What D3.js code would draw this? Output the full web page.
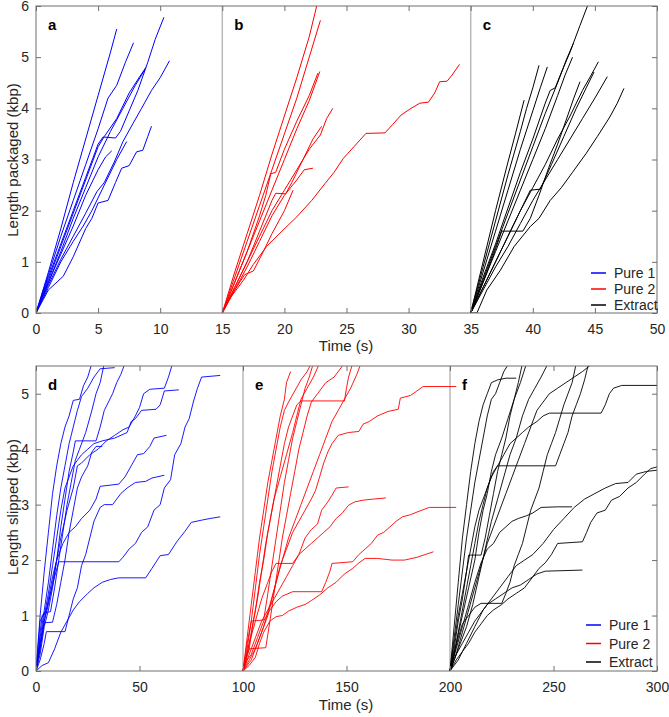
<!DOCTYPE html>
<html lang="en">
<head>
<meta charset="UTF-8">
<title>Packaging and slipping traces</title>
<script src="https://cdn.jsdelivr.net/npm/d3@7"></script>
<style>
  body { margin: 0; background: #fff; }
  svg { font-family: "Liberation Sans", Arial, sans-serif; }
</style>
</head>
<body>
<svg></svg>
<script>
// ---- data (time s, length kbp) ----
// top row: length packaged, traces offset in time per condition
let pure1Packaged = [
  [[0,0],[1,0.8],[2,1.65],[3,2.55],[4,3.4],[5,4.25],[6,5.1],[6.5,5.55]],
  [[0,0],[1,0.75],[2,1.5],[3,2.2],[4,2.9],[5,3.6],[5.8,4.2],[6.5,4.45],[7.2,4.9],[7.85,5.28]],
  [[0,0],[1,0.7],[2,1.35],[3,2.0],[4,2.65],[5,3.3],[5.4,3.44],[6.4,3.42],[6.8,3.55],[7.5,3.95],[8.2,4.35],[9,4.9],[9.6,5.35],[10.3,5.78]],
  [[0,0],[1,0.65],[2,1.3],[3,1.95],[4,2.6],[5,3.25],[5.5,3.45],[6.5,3.8],[7.5,4.3],[8.3,4.6],[8.85,4.8]],
  [[0,0],[1,0.6],[2,1.2],[3,1.85],[4,2.45],[5,3.05],[6,3.55],[7,4.0],[8,4.45],[8.75,4.75]],
  [[0,0],[1,0.55],[2,1.05],[3,1.5],[4,1.95],[4.9,2.37],[5.5,2.55],[6.3,2.95],[7,3.35],[7.8,3.7],[8.5,4.0],[9.3,4.35],[10,4.6],[10.75,4.93]],
  [[0,0],[1,0.45],[2.2,0.72],[3,1.1],[4,1.65],[4.5,1.85],[5,2.15],[5.8,2.2],[6.4,2.55],[6.9,2.83],[7.5,2.88],[8.1,3.15],[8.6,3.18],[9.0,3.45],[9.3,3.65]],
  [[0,0],[1,0.6],[2,1.15],[3,1.7],[4,2.3],[5,2.8],[5.6,3.05],[6.1,3.17]],
  [[0,0],[1,0.5],[2,1.0],[3,1.4],[3.8,1.7],[4.5,2.0],[5.5,2.5],[6.5,3.0],[7.3,3.35]]
];
let pure2Packaged = [
  [[15,0],[16,0.8],[17,1.55],[18,2.3],[19,3.1],[20,3.85],[21,4.6],[22,5.4],[22.6,6.0]],
  [[15,0],[16,0.7],[17,1.4],[18,2.1],[19,2.8],[20,3.5],[21,4.2],[22,5.0],[22.9,5.72]],
  [[15,0],[16,0.6],[17,1.2],[18,1.8],[19,2.4],[20,3.0],[21,3.6],[22,4.15],[22.85,4.72]],
  [[15,0],[16,0.6],[17,1.2],[18,1.9],[18.5,2.3],[18.9,2.72],[19.3,2.75],[20,3.2],[21,3.75],[22,4.25],[22.7,4.69]],
  [[15,0],[16,0.5],[17,1.0],[18,1.5],[19,2.0],[20,2.4],[21,2.8],[22,3.2],[22.9,3.48],[23.4,3.8],[23.9,4.0]],
  [[15,0],[16,0.45],[17,0.9],[18,1.4],[19,1.9],[20,2.3],[21,2.6],[21.6,2.8],[22.3,2.83]],
  [[15,0],[16,0.5],[17,1.0],[18,1.6],[19,2.2],[19.3,2.34],[20.1,2.33],[20.6,2.55],[21.5,3.0],[22.3,3.4],[23,3.65]],
  [[15,0],[15.5,0.25],[16.7,0.64],[17.5,0.95],[18.57,1.3],[19.8,1.6],[21,1.88],[22.2,2.2],[23.27,2.53],[24,2.75],[24.74,3.02],[25.6,3.25],[26.57,3.51],[28.1,3.52],[28.7,3.68],[29.4,3.87],[30.2,4.0],[30.9,4.1],[31.6,4.12],[32.1,4.3],[32.5,4.52],[33.1,4.53],[33.5,4.65],[34.1,4.86]],
  [[15,0],[16,0.45],[16.8,0.75],[17.5,0.82],[18.3,1.2],[19,1.55],[20,2.0],[20.7,2.4]]
];
let extractPackaged = [
  [[35,0],[36,0.7],[37,1.35],[38,2.05],[39,2.75],[40,3.4],[41,4.1],[41.4,4.35],[41.8,4.4],[42.3,4.7],[43,5.1],[43.8,5.62],[44.4,6.0]],
  [[35,0],[36,0.65],[37,1.3],[38,1.95],[39,2.6],[40,3.25],[41,3.9],[42,4.5],[42.7,4.95],[43.27,5.27]],
  [[35,0],[36,0.6],[37,1.2],[38,1.8],[39,2.4],[40,3.0],[41,3.6],[42,4.25],[42.6,4.65],[43.2,5.0]],
  [[35,0],[36,0.9],[37,1.8],[38,2.7],[39,3.55],[39.5,4.0],[40,4.4],[40.5,4.84]],
  [[35,0],[36,0.8],[37,1.6],[38,2.4],[39,3.2],[40,3.95],[40.6,4.4],[41.17,4.81]],
  [[35,0],[36,0.5],[37,1.0],[38,1.5],[39,2.0],[40,2.45],[41,2.9],[42,3.4],[43,3.85],[44,4.35],[44.7,4.65],[45.28,4.91]],
  [[35,0],[36,0.5],[37,1.0],[38,1.5],[39,2.0],[39.8,2.4],[40.6,2.42],[41.5,2.9],[42.5,3.45],[43.5,4.0],[44.3,4.4],[44.93,4.71]],
  [[35,0],[36,0.45],[37,0.9],[38,1.3],[39,1.75],[40,2.2],[41,2.6],[42,3.0],[43,3.4],[44,3.8],[45,4.2],[46,4.62]],
  [[35,0],[36,0.6],[37,1.25],[37.5,1.6],[39.2,1.6],[39.8,1.85],[40.5,2.3],[41.3,2.85],[42,3.3],[42.8,3.85],[43.3,4.2],[43.8,4.52]],
  [[35,0],[35.5,0],[36.3,0.45],[37.4,0.84],[38.5,1.3],[39.8,1.69],[40.5,1.85],[41.4,2.2],[42.3,2.45],[43.2,2.75],[44.3,3.12],[45.2,3.45],[46.2,3.83],[46.8,4.1],[47.34,4.39]],
  [[35,0],[36,1.0],[37,2.0],[38,2.95],[38.6,3.5],[39.3,4.16]]
];

// bottom row: length slipped
let pure1Slipped = [
  [[0,0],[1,0.5],[2,1.0],[4,1.8],[6,2.5],[8,3.2],[10,3.7],[12,4.1],[14,4.4],[16,4.6],[18,4.88],[21,4.9],[23,5.15],[25,5.3],[27,5.55]],
  [[0,0],[2,0.6],[4,1.1],[6,1.6],[8,2.2],[10,2.8],[12,3.3],[14,3.7],[16,4.1],[18,4.4],[20,4.7],[22,4.95],[25,5.1],[28,5.3],[31,5.45],[38,5.47]],
  [[0,0],[2,0.3],[4,0.8],[6,1.1],[8,1.5],[10,2.0],[12,2.6],[14,3.1],[16,3.6],[18,3.95],[19,4.15],[29,4.15],[31,4.4],[33,4.7],[35,4.85],[37,5.0],[39,5.2],[41,5.35],[43,5.55]],
  [[0,0],[3,0.1],[6,0.15],[9,0.4],[12,0.7],[15,0.9],[18,1.1],[21,1.25],[25,1.4],[28,1.5],[32,1.6],[36,1.65],[40,1.68],[53,1.68],[56,1.85],[60,2.08],[64,2.1],[68,2.33],[72,2.52],[75,2.68],[80,2.72],[84,2.75],[89,2.78]],
  [[0,0],[1,0.3],[2,0.7],[3,1.0],[5,1.1],[7,1.4],[9,1.7],[11,1.97],[40,1.97],[42,2.05],[45,2.2],[48,2.3],[51,2.5],[54,2.6],[57,2.9],[60,3.0],[62,3.3],[65,3.45],[67,3.9],[70,4.1],[72,4.4],[74,4.55],[76,4.85],[78,5.1],[80,5.3],[89,5.33]],
  [[0,0],[2,0.2],[4,0.5],[5,0.71],[14,0.71],[16,1.0],[18,1.3],[20,1.5],[22,1.9],[24,2.1],[26,2.4],[28,2.7],[31,2.95],[33,3.0],[37,3.0],[39,3.1],[41,3.2],[44,3.3],[48,3.4],[53,3.42],[56,3.48],[62,3.53]],
  [[0,0],[2,0.4],[4,0.9],[6,1.3],[8,1.7],[10,2.0],[13,2.3],[16,2.5],[19,2.6],[22,2.75],[26,2.9],[29,3.1],[31,3.33],[40,3.37],[43,3.5],[46,3.7],[49,3.9],[52,3.92],[55,4.05],[57,4.2],[63,4.25]],
  [[0,0],[2,0.5],[4,1.0],[6,1.4],[8,1.9],[10,2.4],[12,2.9],[14,3.3],[16,3.5],[18,3.7],[20,3.8],[22,3.9],[25,4.0],[28,4.1],[32,4.15],[38,4.2],[44,4.3],[46,4.5],[48,4.55],[51,4.7],[58,4.72],[60,4.8],[62,5.05],[69,5.07]],
  [[0,0],[2,0.4],[4,0.9],[6,1.2],[8,1.6],[10,2.0],[12,2.4],[15,2.9],[18,3.3],[20,3.7],[22,3.75],[26,3.9],[30,4.0],[34,4.15],[38,4.25],[42,4.35],[45,4.4],[48,4.6],[50,4.75],[52,5.0],[55,5.08],[62,5.1],[64,5.3],[66,5.55]],
  [[0,0],[2,0.9],[4,1.05],[7,1.07],[9,1.5],[11,2.0],[13,2.5],[15,3.0],[17,3.4],[19,3.8],[21,4.0],[24,4.3],[27,4.7],[29,5.0],[31,5.2],[33,5.55]],
  [[0,0],[2,0.5],[4,0.87],[8,0.88],[10,1.2],[12,1.6],[14,2.0],[16,2.5],[18,2.9],[20,3.3],[22,3.5],[25,3.7],[27,3.95],[29,4.05],[32,4.05]]
];
let pure2Slipped = [
  [[100,0],[102,0.6],[104,1.2],[106,1.8],[108,2.4],[110,2.9],[112,3.4],[114,3.8],[116,4.2],[118,4.6],[120,4.9],[121,5.2],[123,5.4]],
  [[100,0],[102,0.4],[104,0.9],[106,1.5],[108,2.1],[110,2.6],[112,3.1],[114,3.6],[116,4.0],[118,4.4],[120,4.7],[122,4.85],[125,5.05],[128,5.25],[131,5.4],[133,5.55]],
  [[100,0],[102,0.3],[104,0.7],[106,1.1],[108,1.6],[110,2.0],[112,2.5],[114,2.9],[116,3.3],[118,3.7],[120,4.1],[122,4.4],[124,4.6],[126,4.8],[128,4.87],[149,4.87],[150,5.1],[151,5.3],[153,5.55]],
  [[100,0],[103,0.4],[105,0.9],[107,1.3],[109,1.8],[111,2.3],[113,2.7],[115,3.1],[118,3.5],[121,3.9],[124,4.3],[126,4.6],[128,4.9],[131,5.1],[134,5.3],[137,5.55]],
  [[100,0],[103,0.2],[106,0.4],[109,0.7],[112,1.0],[114,1.3],[116,1.6],[118,1.9],[121,2.2],[124,2.5],[127,2.7],[130,2.9],[133,3.1],[135,3.25],[137,3.5],[139,3.75],[141,3.95],[143,4.1],[146,4.25],[151,4.3],[156,4.32],[158,4.45],[161,4.5],[165,4.6],[170,4.68],[175,4.72],[176,4.92],[181,4.97],[184,5.05],[187,5.13],[203,5.13]],
  [[100,0],[103,0.3],[106,0.6],[109,0.9],[112,1.1],[115,1.3],[118,1.5],[121,1.7],[124,1.9],[127,2.1],[130,2.4],[133,2.55],[136,2.65],[138,2.9],[141,3.05],[143,3.17],[145,3.3],[151,3.32]],
  [[100,0],[103,0.5],[106,0.9],[109,1.3],[112,1.6],[114,1.8],[116,1.94],[124,1.94],[127,2.1],[130,2.2],[133,2.3],[136,2.4],[139,2.5],[142,2.6],[145,2.75],[148,2.85],[151,2.99],[154,3.05],[158,3.08],[163,3.1],[169,3.12]],
  [[100,0],[102,0.2],[104,0.3],[107,0.6],[110,0.9],[113,1.1],[116,1.25],[119,1.35],[124,1.43],[138,1.43],[140,1.6],[142,1.8],[143,1.94],[153,1.97],[156,2.1],[159,2.2],[162,2.3],[165,2.45],[168,2.5],[171,2.6],[174,2.7],[177,2.78],[181,2.82],[185,2.88],[190,2.95],[203,2.95]],
  [[100,0],[103,0.1],[106,0.25],[108,0.5],[110,0.7],[113,0.9],[116,0.98],[119,1.0],[122,1.08],[126,1.15],[130,1.2],[133,1.27],[137,1.37],[141,1.5],[145,1.6],[149,1.75],[153,1.85],[156,1.95],[159,2.03],[165,2.03],[172,2.0],[178,2.0],[184,2.05],[188,2.1],[192,2.15]],
  [[100,0],[102,0.5],[104,0.9],[110,0.92],[112,1.4],[114,1.9],[116,2.4],[118,2.9],[120,3.4],[122,3.8],[124,4.2],[126,4.5],[128,4.8],[130,5.1],[132,5.3],[134,5.55]],
  [[100,0],[102,0.3],[103,0.4],[111,0.42],[113,0.9],[115,1.4],[117,1.9],[119,2.4],[121,2.8],[123,3.2],[125,3.6],[127,4.0],[129,4.3],[131,4.6],[133,4.85],[136,5.0],[140,5.2],[144,5.3],[148,5.5]],
  [[100,0],[104,0.2],[107,0.5],[110,0.8],[113,1.2],[116,1.6],[119,2.0],[122,2.4],[125,2.7],[128,3.0],[131,3.3],[134,3.6],[137,3.9],[140,4.2],[143,4.5],[146,4.7],[149,4.9],[152,5.1],[155,5.35],[157,5.55]]
];
let extractSlipped = [
  [[200,0],[202,0.8],[204,1.6],[206,2.4],[208,3.0],[210,3.6],[212,4.1],[214,4.5],[216,4.8],[218,5.0],[220,5.2],[223,5.25],[227,5.28],[232,5.28]],
  [[200,0],[202,0.6],[204,1.2],[206,1.8],[208,2.4],[210,2.9],[212,3.4],[214,3.8],[216,4.2],[218,4.6],[220,4.9],[222,5.0],[224,5.2],[226,5.4],[228,5.52],[250,5.52]],
  [[200,0],[203,0.5],[206,1.0],[209,1.5],[212,2.0],[214,2.5],[216,2.9],[218,3.2],[220,3.6],[222,3.9],[225,4.2],[228,4.55],[231,4.9],[234,5.2],[237,5.55]],
  [[200,0],[202,0.4],[204,0.9],[206,1.3],[208,1.8],[210,2.2],[212,2.6],[214,2.9],[216,3.1],[218,3.3],[221,3.6],[223,3.7],[251,3.7],[253,3.9],[255,4.1],[257,4.3],[259,4.6],[261,4.8],[263,5.0],[265,5.25],[267,5.55]],
  [[200,0],[202,0.3],[204,0.7],[206,1.1],[208,1.5],[210,1.9],[212,2.3],[214,2.7],[216,3.0],[218,3.3],[220,3.5],[223,3.7],[226,3.9],[229,4.1],[232,4.2],[235,4.3],[238,4.4],[242,4.5],[245,4.6],[248,4.65],[273,4.65],[275,4.8],[277,5.0],[279,5.1],[283,5.15],[300,5.15]],
  [[200,0],[203,0.3],[206,0.7],[209,1.1],[212,1.5],[215,1.9],[218,2.3],[221,2.6],[224,2.9],[227,3.2],[230,3.5],[233,3.8],[236,4.1],[239,4.4],[242,4.7],[245,4.85],[248,5.0],[252,5.1],[256,5.2],[260,5.3],[264,5.4],[268,5.52],[272,5.55]],
  [[200,0],[203,0.4],[206,0.8],[209,1.2],[212,1.6],[215,1.95],[218,2.2],[221,2.3],[224,2.5],[227,2.6],[230,2.7],[233,2.75],[237,2.8],[240,2.85],[244,2.95],[252,2.96],[259,2.96]],
  [[200,0],[203,0.3],[206,0.5],[209,0.7],[212,0.9],[215,1.05],[218,1.2],[222,1.3],[226,1.4],[230,1.5],[234,1.55],[238,1.65],[242,1.75],[246,1.8],[264,1.82]],
  [[200,0],[203,0.2],[206,0.35],[209,0.5],[212,0.7],[215,0.85],[218,1.0],[221,1.1],[225,1.2],[228,1.3],[232,1.4],[236,1.5],[240,1.7],[243,1.85],[246,1.95],[249,2.1],[252,2.3],[264,2.33],[266,2.5],[268,2.68],[271,2.85],[275,2.9],[278,3.08],[282,3.15],[286,3.3],[290,3.4],[294,3.55],[297,3.65],[300,3.68]],
  [[200,0],[204,0.2],[208,0.5],[212,0.8],[216,1.1],[220,1.3],[224,1.5],[228,1.7],[232,1.9],[236,2.0],[240,2.1],[245,2.3],[250,2.55],[255,2.75],[260,2.95],[265,3.1],[270,3.2],[275,3.3],[280,3.38],[286,3.4],[290,3.55],[295,3.6],[300,3.62]],
  [[200,0],[202,0.3],[204,0.6],[206,0.85],[209,1.0],[212,1.15],[215,1.22],[225,1.22],[227,1.4],[229,1.6],[231,1.9],[233,2.1],[235,2.3],[237,2.6],[239,2.9],[241,3.1],[243,3.3],[245,3.6],[247,3.9],[249,4.1],[251,4.3],[253,4.55],[255,4.8],[257,5.0],[259,5.2],[261,5.55]],
  [[200,0],[202,0.5],[204,1.0],[206,1.4],[208,1.8],[209,2.09],[215,2.09],[217,2.4],[219,2.8],[221,3.2],[223,3.6],[225,3.9],[227,4.2],[229,4.6],[231,4.9],[233,5.2],[235,5.55]],
  [[200,0],[204,0.4],[208,0.8],[211,1.2],[214,1.7],[217,2.2],[220,2.7],[223,3.1],[226,3.5],[229,3.9],[232,4.2],[235,4.6],[238,4.9],[241,5.1],[244,5.3],[247,5.52],[253,5.52]]
];

let topXTicks = [0, 5, 10, 15, 20, 25, 30, 35, 40, 45, 50];
let topYTicks = [0, 1, 2, 3, 4, 5, 6];
let botXTicks = [0, 50, 100, 150, 200, 250, 300];
let botYTicks = [0, 1, 2, 3, 4, 5];
let topDividers = [15, 35];
let botDividers = [100, 200];
let seriesNames = ["Pure 1", "Pure 2", "Extract"];
let seriesColors = ["#0000ff", "#ff0000", "#000000"];

// ---- drawing ----
let width = 669, height = 717;
let svg = d3.select("svg").attr("width", width).attr("height", height);

let axisColor = "#6e6e6e", textColor = "#262626";

function drawPanel(opt) {
  let x = d3.scaleLinear().domain(opt.xDomain).range([36, 657]);
  let y = d3.scaleLinear().domain(opt.yDomain).range([opt.bottom, opt.top]);
  let g = svg.append("g");

  // clip so traces stay inside the box
  svg.append("clipPath").attr("id", opt.id)
    .append("rect")
    .attr("x", 36).attr("y", opt.top)
    .attr("width", 621).attr("height", opt.bottom - opt.top);

  // light grey lines splitting the three conditions
  g.selectAll(".divider").data(opt.dividers).enter().append("line")
    .attr("x1", d => x(d)).attr("x2", d => x(d))
    .attr("y1", opt.top).attr("y2", opt.bottom)
    .attr("stroke", "#b9b9b9").attr("stroke-width", 1.5);

  let line = d3.line().x(d => x(d[0])).y(d => y(d[1]));
  let traces = g.append("g").attr("clip-path", "url(#" + opt.id + ")");
  opt.groups.forEach((group, i) => {
    traces.selectAll(null).data(group).enter().append("path")
      .attr("d", line)
      .attr("fill", "none")
      .attr("stroke", seriesColors[i])
      .attr("stroke-width", opt.lineWidth)
      .attr("stroke-linejoin", "round");
  });

  // axes, ticks pointing inward on all four sides
  let styleAxis = sel => {
    sel.select(".domain").remove();
    sel.selectAll("line").attr("stroke", axisColor);
    sel.selectAll("text").attr("fill", textColor).style("font-size", "14px")
      .style("font-family", "'Liberation Sans', Arial, sans-serif");
  };
  let fmt = d3.format("d");
  g.append("g").attr("transform", `translate(0,${opt.bottom})`)
    .call(d3.axisBottom(x).tickValues(opt.xTicks).tickSize(-5).tickPadding(11).tickFormat(fmt))
    .call(styleAxis);
  g.append("g").attr("transform", `translate(0,${opt.top})`)
    .call(d3.axisTop(x).tickValues(opt.xTicks).tickSize(-5).tickFormat(""))
    .call(styleAxis);
  g.append("g").attr("transform", "translate(36,0)")
    .call(d3.axisLeft(y).tickValues(opt.yTicks).tickSize(-5).tickPadding(7).tickFormat(fmt))
    .call(styleAxis);
  g.append("g").attr("transform", "translate(657,0)")
    .call(d3.axisRight(y).tickValues(opt.yTicks).tickSize(-5).tickFormat(""))
    .call(styleAxis);

  g.append("rect")
    .attr("x", 36).attr("y", opt.top)
    .attr("width", 621).attr("height", opt.bottom - opt.top)
    .attr("fill", "none").attr("stroke", axisColor).attr("stroke-width", 1);

  // panel letters
  g.selectAll(".letter").data(opt.letters).enter().append("text")
    .attr("x", d => x(d.at) + 12)
    .attr("y", opt.top + 24)
    .attr("font-size", 15).attr("font-weight", "bold")
    .attr("fill", "#000")
    .text(d => d.name);

  // axis titles
  g.append("text")
    .attr("x", 346).attr("y", opt.bottom + opt.xLabelGap)
    .attr("text-anchor", "middle").attr("font-size", 15).attr("fill", textColor)
    .text("Time (s)");
  g.append("text")
    .attr("transform", `translate(18,${opt.yLabelAt}) rotate(-90)`)
    .attr("text-anchor", "middle").attr("font-size", 15).attr("fill", textColor)
    .text(opt.yLabel);

  // legend, bottom right, no frame
  let leg = g.append("g").attr("transform", `translate(${opt.legendX},${opt.legendY})`);
  seriesNames.forEach((name, i) => {
    leg.append("line")
      .attr("x1", 0).attr("x2", 15)
      .attr("y1", i * opt.legendStep).attr("y2", i * opt.legendStep)
      .attr("stroke", seriesColors[i]).attr("stroke-width", 1.5);
    leg.append("text")
      .attr("x", 23).attr("y", i * opt.legendStep + 5)
      .attr("font-size", 14).attr("fill", textColor)
      .text(name);
  });
}

drawPanel({
  id: "clipTop", top: 6, bottom: 313,
  xDomain: [0, 50], yDomain: [0, 6],
  xTicks: topXTicks, yTicks: topYTicks, dividers: topDividers,
  groups: [pure1Packaged, pure2Packaged, extractPackaged],
  lineWidth: 1,
  letters: [{name: "a", at: 0}, {name: "b", at: 15}, {name: "c", at: 35}],
  yLabel: "Length packaged (kbp)", yLabelAt: 160, xLabelGap: 38,
  legendX: 591, legendY: 273, legendStep: 16
});

drawPanel({
  id: "clipBot", top: 366, bottom: 671,
  xDomain: [0, 300], yDomain: [0, 5.5],
  xTicks: botXTicks, yTicks: botYTicks, dividers: botDividers,
  groups: [pure1Slipped, pure2Slipped, extractSlipped],
  lineWidth: 0.9,
  letters: [{name: "d", at: 0}, {name: "e", at: 100}, {name: "f", at: 200}],
  yLabel: "Length slipped (kbp)", yLabelAt: 507, xLabelGap: 39,
  legendX: 586, legendY: 625, legendStep: 18.5
});
</script>
</body>
</html>
